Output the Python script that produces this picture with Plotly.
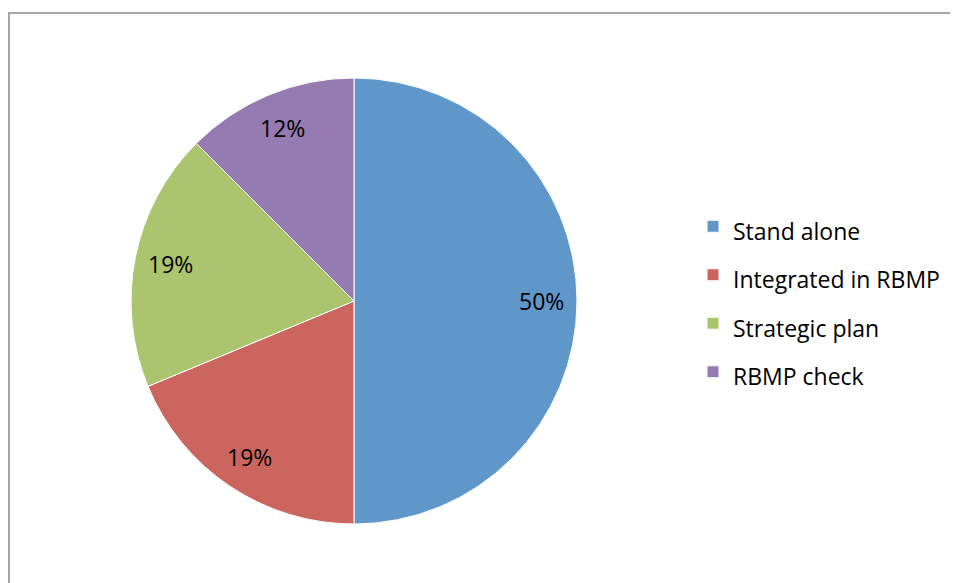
import math
import plotly.graph_objects as go

W, H = 950, 575   # page body adds an 8px margin, so the figure is 8px smaller

categories = ["Stand alone", "Integrated in RBMP", "Strategic plan", "RBMP check"]
shares = [50, 18.75, 18.75, 12.5]
share_labels = ["50%", "19%", "19%", "12%"]
colors = ["#6097CA", "#CC655D", "#ABC46D", "#957BB1"]

FONT = "Open Sans"
TXT = 23
OFF = 8

def px(x):
    return (x - OFF) / W

def py(y):
    return 1 - (y - OFF) / H

dom_x = [px(131), px(577)]
dom_y = [py(524), py(78)]

legend_labels = ['<span style="font-size:%dpx">%s</span>' % (TXT, c) for c in categories]

fig = go.Figure(go.Pie(
    labels=legend_labels,
    values=shares,
    textinfo="none",
    marker=dict(colors=colors, line=dict(color="#FFFFFF", width=1)),
    sort=False,
    direction="clockwise",
    rotation=0,
    hole=0,
    hoverinfo="label+percent",
    domain=dict(x=dom_x, y=dom_y),
))

# data labels placed along each slice's bisector, at 84% of the radius
cx = (dom_x[0] + dom_x[1]) / 2
cy = (dom_y[0] + dom_y[1]) / 2
r_px = (dom_x[1] - dom_x[0]) * W / 2
total = sum(shares)
annotations = []
cum = 0.0
for v, t in zip(shares, share_labels):
    mid = (cum + v / 2) / total * 2 * math.pi
    cum += v
    ax = cx + 0.84 * r_px * math.sin(mid) / W
    ay = cy + 0.84 * r_px * math.cos(mid) / H
    annotations.append(dict(
        x=ax, y=ay, xref="paper", yref="paper", text=t, showarrow=False,
        xanchor="center", yanchor="middle",
        font=dict(family=FONT, size=TXT, color="#000000"),
    ))

fig.update_layout(
    width=W, height=H,
    margin=dict(l=0, r=0, t=0, b=0),
    paper_bgcolor="#FFFFFF",
    plot_bgcolor="#FFFFFF",
    font=dict(family=FONT, size=TXT, color="#000000"),
    showlegend=True,
    legend=dict(
        x=685 / W, xanchor="left",
        y=1 - 189 / H, yanchor="top",
        font=dict(family=FONT, size=35, color="#000000"),
        bgcolor="rgba(0,0,0,0)",
        traceorder="normal",
    ),
    annotations=annotations,
    shapes=[dict(
        type="rect", xref="paper", yref="paper",
        x0=1 / W, x1=1.05, y0=-0.05, y1=1 - 5 / H,
        line=dict(color="#A6A6A6", width=2),
        fillcolor="rgba(0,0,0,0)", layer="below",
    )],
)

fig.write_html("out.html")
